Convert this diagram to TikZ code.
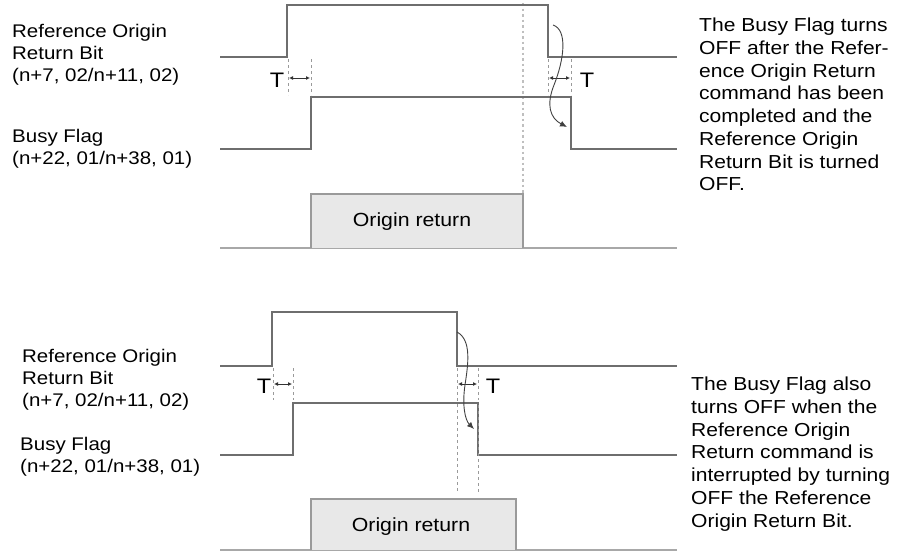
\documentclass[tikz,border=0pt]{standalone}
\usepackage{fontspec}
\setmainfont{Liberation Sans}[FakeStretch=1.12]
\usetikzlibrary{arrows.meta}
\definecolor{sig}{HTML}{6E6E6E}
\definecolor{baseln}{HTML}{A8A8A8}
\definecolor{boxfill}{HTML}{E8E8E8}
\definecolor{boxline}{HTML}{9A9A9A}
\definecolor{guide}{HTML}{9A9A9A}
\tikzset{
  signal/.style={draw=sig, line width=2.2pt, line join=miter},
  baseline/.style={draw=baseln, line width=2.6pt},
  procbox/.style={draw=boxline, fill=boxfill, line width=1.8pt},
  guideline/.style={draw=guide, line width=0.8pt, dash pattern=on 3pt off 3pt},
  dotline/.style={draw=black!25, line width=1.5pt, dash pattern=on 2.5pt off 3pt},
  tarrow/.style={draw=black!80, line width=0.9pt, {Latex[length=4pt,width=4pt]}-{Latex[length=4pt,width=4pt]}},
  curvearrow/.style={draw=black!75, line width=0.9pt, -{Latex[length=7pt,width=6pt]}},
  label/.style={inner sep=0pt, anchor=north west, align=left, font=\fontsize{18.3}{22}\selectfont},
  note/.style={inner sep=0pt, anchor=north west, align=left, font=\fontsize{18.8}{22.7}\selectfont},
  tlabel/.style={inner sep=0pt, font=\fontsize{21}{22}\selectfont},
  boxtext/.style={font=\fontsize{19}{22}\selectfont}
}
\begin{document}
\begin{tikzpicture}[x=1pt,y=-1pt]
\useasboundingbox (0,0) rectangle (904,552);

% ================= TOP DIAGRAM =================
\node[label] (tl1) at (12,24) {Reference Origin\\Return Bit\\(n+7, 02/n+11, 02)};
\node[label] (tl2) at (12,129) {Busy Flag\\(n+22, 01/n+38, 01)};
\node[note] (tr) at (699,18) {The Busy Flag turns\\OFF after the Refer-\\ence Origin Return\\command has been\\completed and the\\Reference Origin\\Return Bit is turned\\OFF.};

% dotted guide
\draw[dotline] (523,3) -- (523,194);
% box
\draw[baseline] (220,248) -- (677,248);
\draw[procbox] (311,248) -- (311,194) -- (523,194) -- (523,248);
\node[boxtext] (tbox) at (412,222) {Origin return};

% signals
\draw[signal] (220,57) -- (287,57) -- (287,5) -- (548,5) -- (548,57) -- (677,57);
\draw[signal] (220,149) -- (311,149) -- (311,97) -- (571,97) -- (571,149) -- (677,149);

% dashed guides and T
\draw[guideline] (288,59) -- (288,95);
\draw[guideline] (311,59) -- (311,95);
\draw[guideline] (548,59) -- (548,95);
\draw[guideline] (571,59) -- (571,95);
\coordinate (ta1) at (289,78); \coordinate (ta2) at (310,78);
\coordinate (ta3) at (549,78); \coordinate (ta4) at (570,78);
\draw[tarrow] (ta1) -- (ta2);
\draw[tarrow] (ta3) -- (ta4);
\node[tlabel] (tT1) at (277,80) {T};
\node[tlabel] (tT2) at (587,80) {T};

% curved arrow
\coordinate (tc0) at (553,25);
\coordinate (tc1) at (567,127);
\draw[curvearrow] (tc0) .. controls (568,30) and (564,60) .. (554,85)
  .. controls (546,105) and (550,118) .. (tc1);

% ================= BOTTOM DIAGRAM =================
\node[label] (bl1) at (22,349) {Reference Origin\\Return Bit\\(n+7, 02/n+11, 02)};
\node[label] (bl2) at (20,437) {Busy Flag\\(n+22, 01/n+38, 01)};
\node[note] (br) at (691,377) {The Busy Flag also\\turns OFF when the\\Reference Origin\\Return command is\\interrupted by turning\\OFF the Reference\\Origin Return Bit.};

\draw[baseline] (220,550) -- (677,550);
\draw[procbox] (311,550) -- (311,499) -- (516,499) -- (516,550);
\node[boxtext] (bbox) at (411,527) {Origin return};

\draw[signal] (220,366) -- (272,366) -- (272,312) -- (457,312) -- (457,366) -- (677,366);
\draw[signal] (220,455) -- (293,455) -- (293,403) -- (478,403) -- (478,455) -- (677,455);

\draw[guideline] (273,368) -- (273,400);
\draw[guideline] (293,368) -- (293,400);
\draw[guideline] (457,368) -- (457,492);
\draw[guideline] (478,405) -- (478,492);
\draw[guideline] (478,368) -- (478,400);
\coordinate (ba1) at (274,384); \coordinate (ba2) at (292,384);
\coordinate (ba3) at (458,384); \coordinate (ba4) at (477,384);
\draw[tarrow] (ba1) -- (ba2);
\draw[tarrow] (ba3) -- (ba4);
\node[tlabel] (bT1) at (264,386) {T};
\node[tlabel] (bT2) at (493,386) {T};

\coordinate (bc0) at (457,332);
\coordinate (bc1) at (474,429);
\draw[curvearrow] (bc0) .. controls (472,340) and (468,365) .. (465,385)
  .. controls (462,405) and (465,420) .. (bc1);
\end{tikzpicture}
\end{document}
